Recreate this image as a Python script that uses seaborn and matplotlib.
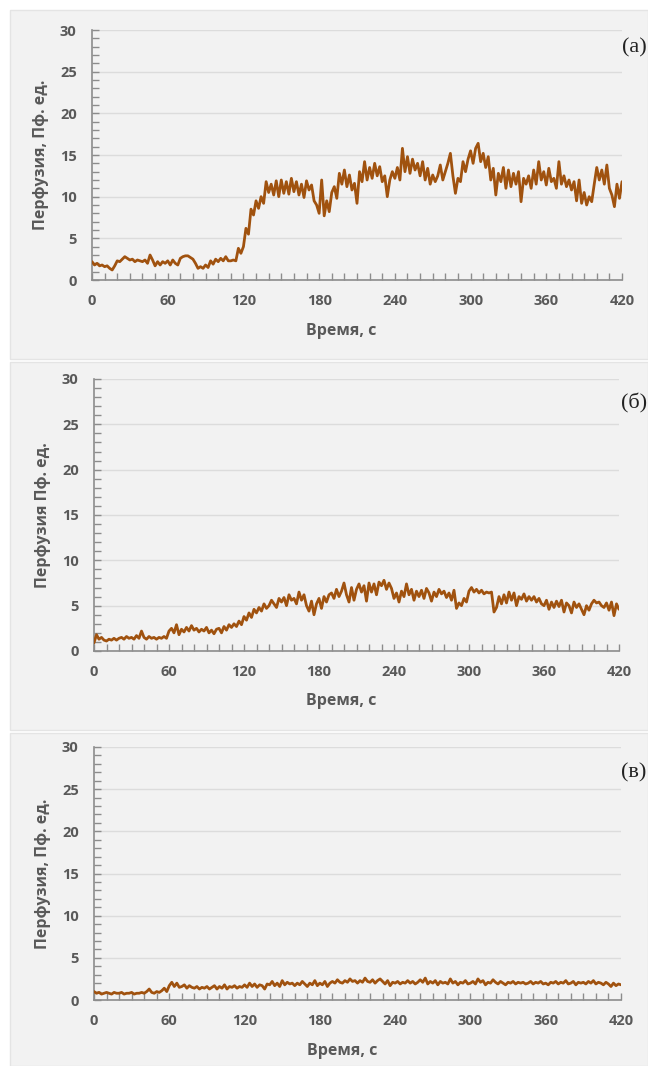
import numpy as np
import matplotlib
matplotlib.use("Agg")
import matplotlib.pyplot as plt
from matplotlib.patches import Rectangle
from matplotlib.ticker import MultipleLocator
import seaborn as sns

# ---------------- data (perfusion, PU; sampled every 2 s from 0 to 420 s) ----------------
perf_a = [
    2.2, 1.8, 2.0, 1.7, 1.8, 1.6, 1.7, 1.4, 1.2, 1.7,
    2.3, 2.2, 2.5, 2.8, 2.6, 2.4, 2.5, 2.2, 2.4, 2.3,
    2.2, 2.4, 2.0, 3.0, 2.4, 1.7, 2.2, 1.8, 2.2, 2.0,
    2.3, 1.8, 2.4, 2.0, 1.8, 2.6, 2.8, 2.9, 2.9, 2.7,
    2.5, 2.0, 1.4, 1.6, 1.4, 1.8, 1.5, 2.3, 1.9, 2.5,
    2.2, 2.6, 2.3, 2.8, 2.3, 2.3, 2.4, 2.3, 3.8, 3.2,
    4.0, 6.2, 5.5, 8.5, 7.8, 9.5, 8.6, 10.0, 9.2, 11.8,
    10.5, 11.5, 10.2, 11.9, 10.0, 12.0, 10.4, 11.8, 10.3, 12.2,
    10.6, 11.8, 10.2, 11.5, 9.9, 11.9, 10.8, 11.4, 9.5, 9.0,
    8.0, 12.0, 7.7, 9.5, 8.2, 10.5, 11.2, 9.8, 12.8, 11.5,
    13.2, 11.2, 12.6, 10.8, 11.6, 9.2, 13.0, 11.8, 14.2, 12.0,
    13.5, 12.2, 14.0, 12.5, 13.6, 11.8, 12.5, 10.0, 12.0, 13.0,
    12.2, 13.5, 12.0, 15.8, 13.0, 14.8, 12.8, 14.5, 13.2, 14.0,
    12.5, 14.2, 12.0, 13.4, 11.5, 12.6, 11.8, 12.5, 13.8, 12.0,
    13.0, 14.0, 15.2, 12.5, 10.4, 12.2, 11.8, 14.2, 13.0, 14.5,
    15.5, 14.0, 15.8, 16.4, 14.2, 15.2, 13.5, 14.8, 12.0, 13.4,
    10.2, 12.8, 11.8, 13.5, 11.0, 13.2, 11.2, 12.8, 11.5, 13.0,
    9.4, 12.2, 11.5, 12.5, 11.0, 13.2, 11.5, 14.2, 12.0, 13.0,
    11.4, 13.4, 11.8, 12.2, 11.0, 14.2, 11.5, 12.5, 11.2, 12.0,
    10.8, 11.8, 9.5, 12.0, 9.2, 10.5, 9.0, 10.0, 9.4, 11.5,
    13.5, 12.0, 13.2, 11.5, 13.8, 11.0, 10.2, 8.8, 11.5, 9.8,
    11.8,
]

perf_b = [
    0.9, 1.8, 1.3, 1.5, 1.2, 1.1, 1.3, 1.2, 1.4, 1.2,
    1.4, 1.5, 1.3, 1.6, 1.4, 1.5, 1.3, 1.7, 1.4, 2.2,
    1.5, 1.3, 1.6, 1.4, 1.5, 1.3, 1.5, 1.4, 1.6, 1.4,
    2.2, 2.5, 2.0, 2.9, 1.8, 2.4, 2.1, 2.6, 2.2, 2.8,
    2.3, 2.5, 2.1, 2.4, 2.2, 2.6, 2.0, 2.3, 1.9, 2.4,
    2.5, 2.0, 2.7, 2.3, 2.9, 2.6, 3.0, 2.7, 3.3, 2.9,
    3.8, 3.4, 4.2, 3.7, 4.6, 4.2, 4.8, 4.4, 5.2, 4.7,
    5.0, 5.6, 5.2, 4.8, 5.8, 5.4, 5.9, 5.0, 6.2, 5.6,
    5.8, 5.2, 6.5, 5.6, 6.2, 5.0, 4.4, 5.5, 4.0, 5.2,
    5.8, 4.7, 6.0, 5.4, 6.2, 6.4, 5.8, 6.8, 6.0, 6.6,
    7.5, 6.2, 5.4, 7.0, 5.6, 6.8, 7.4, 6.5, 7.2, 5.5,
    7.5, 6.5, 7.4, 6.2, 7.6, 7.2, 7.8, 6.8, 7.5, 6.9,
    5.8, 6.4, 5.4, 6.6, 6.0, 7.4, 6.2, 6.8, 5.6, 6.6,
    6.0, 6.7, 5.8, 6.9, 6.4, 5.5, 6.5, 6.0, 6.8, 6.3,
    6.6, 5.9, 6.4, 5.6, 6.7, 4.7, 5.3, 5.0, 5.8, 5.4,
    6.6, 7.0, 6.5, 6.8, 6.4, 6.7, 6.3, 6.5, 6.4, 6.5,
    4.3, 4.8, 6.0, 5.2, 6.2, 5.3, 6.5, 5.6, 6.4, 5.0,
    6.0, 5.7, 6.3, 5.5, 6.0, 5.6, 6.0, 5.4, 5.8, 5.2,
    5.0, 5.6, 4.6, 5.4, 4.8, 5.5, 4.9, 5.6, 4.3, 5.3,
    5.0, 4.2, 5.4, 4.8, 5.2, 4.6, 4.0, 5.0, 4.5, 5.2,
    5.6, 5.3, 5.4, 5.0, 4.8, 5.3, 4.5, 5.4, 3.9, 5.2,
    4.6,
]

perf_c = [
    1.0, 0.8, 0.9, 0.7, 0.8, 0.9, 0.8, 0.7, 0.9, 0.8,
    0.8, 0.9, 0.7, 0.8, 0.8, 0.9, 0.7, 0.8, 0.8, 0.9,
    0.8, 1.0, 1.3, 0.9, 0.8, 1.0, 0.9, 1.1, 1.4, 1.0,
    1.7, 2.1, 1.6, 2.0, 1.5, 1.6, 1.8, 1.4, 1.7, 1.5,
    1.4, 1.6, 1.3, 1.5, 1.4, 1.6, 1.3, 1.5, 1.7, 1.3,
    1.6, 1.4, 1.8, 1.3, 1.6, 1.5, 1.7, 1.4, 1.6, 1.5,
    1.8, 1.5, 2.0, 1.6, 1.9, 1.5, 1.8, 1.7, 1.3, 1.9,
    1.8, 2.2, 1.7, 2.0, 1.6, 2.3, 1.8, 2.1, 1.9, 2.0,
    1.7, 2.0, 1.8, 2.2, 1.9, 1.6, 2.0, 1.8, 2.3, 1.7,
    2.0, 1.8, 2.2, 1.6, 2.0, 2.2, 2.0, 2.4, 2.1, 2.0,
    2.3, 2.1, 2.5, 2.2, 2.3, 2.0, 2.3, 2.1, 2.6, 2.2,
    2.1, 2.4, 2.0, 2.3, 2.5, 2.2, 1.9, 2.3, 1.7, 2.1,
    2.0, 2.2, 1.9, 2.1, 2.0, 2.3, 2.0, 2.2, 1.9, 2.1,
    2.4, 2.1, 2.6, 1.9, 2.2, 2.0, 2.3, 1.8, 2.2, 2.0,
    2.1, 1.9, 2.5, 2.0, 2.2, 1.8, 2.1, 2.0, 2.3, 1.9,
    2.0, 2.2, 1.9, 2.5, 2.1, 2.3, 1.8, 2.1, 2.0, 2.4,
    2.1, 1.9, 2.2, 2.0, 1.8, 2.1, 2.0, 2.2, 1.9, 2.1,
    2.0, 2.1, 1.9, 2.0, 2.2, 1.9, 2.1, 2.0, 2.2, 1.9,
    2.0, 1.8, 2.1, 2.0, 2.2, 1.9, 2.1, 2.0, 2.3, 1.9,
    2.0, 2.2, 1.8, 2.1, 2.0, 2.1, 1.9, 2.2, 2.0, 2.3,
    1.9, 2.1, 2.0, 1.8, 2.1, 1.9, 1.6, 2.0, 1.7, 1.9,
    1.8,
]

x_ticks = [0, 60, 120, 180, 240, 300, 360, 420]
y_ticks = [0, 5, 10, 15, 20, 25, 30]
x_label = "Время, с"
y_labels = ["Перфузия, Пф. ед.", "Перфузия Пф. ед.", "Перфузия, Пф. ед."]
panel_tags = ["(а)", "(б)", "(в)"]

# ---------------- style ----------------
sns.set_style("white")
plt.rcParams["font.family"] = ["Open Sans", "DejaVu Sans"]

W, H = 648, 1066
fig = plt.figure(figsize=(W / 100, H / 100), dpi=100)
fig.patch.set_facecolor("white")

LINE = "#A0520F"
TXT = "#595959"
AXC = "#8C8C8C"
GRID = "#DCDCDC"
BG = "#F2F2F2"

# panel background boxes (pixel coords: x0, y0_top, x1, y1_bottom)
panels = [(10, 10, 648, 359), (10, 362, 648, 730), (10, 733, 648, 1066)]
# axes boxes (left, top, right, bottom) in pixels
boxes = [(92, 30, 622, 280), (94, 379, 619, 651), (94, 747, 621, 1000)]
series = [perf_a, perf_b, perf_c]
tag_pos = [(634, 48), (634, 403), (634, 773)]

for (x0, y0, x1, y1) in panels:
    fig.patches.append(Rectangle((x0 / W, 1 - y1 / H), (x1 - x0) / W, (y1 - y0) / H,
                                 transform=fig.transFigure, facecolor=BG,
                                 edgecolor="#E4E4E4", linewidth=1.0, zorder=-5))

for i, (box, vals) in enumerate(zip(boxes, series)):
    l, t, r, b = box
    ax = fig.add_axes([l / W, 1 - b / H, (r - l) / W, (b - t) / H])
    ax.set_facecolor("none")
    ax.patch.set_alpha(0)
    tsec = np.linspace(0, 420, len(vals))
    sns.lineplot(x=tsec, y=vals, ax=ax, color=LINE, linewidth=2.0, zorder=3)
    ax.set_xlim(0, 420)
    ax.set_ylim(0, 30)
    ax.set_xticks(x_ticks)
    ax.set_yticks(y_ticks)
    ax.xaxis.set_minor_locator(MultipleLocator(10))
    ax.yaxis.set_minor_locator(MultipleLocator(1))
    ax.tick_params(which="both", bottom=True, left=True, top=False, right=False,
                   direction="in", color=AXC, width=1.0, length=5)
    ax.tick_params(axis="x", which="major", pad=10)
    ax.tick_params(axis="y", which="major", pad=11)
    for lab in ax.get_xticklabels() + ax.get_yticklabels():
        lab.set_fontweight("bold")
        lab.set_color(TXT)
        lab.set_fontsize(10.5)
    ax.yaxis.grid(True, color=GRID, linewidth=1.0, zorder=0)
    ax.xaxis.grid(False)
    ax.set_axisbelow(True)
    for s in ["top", "right"]:
        ax.spines[s].set_visible(False)
    for s in ["left", "bottom"]:
        ax.spines[s].set_color(AXC)
        ax.spines[s].set_linewidth(1.2)
    ax.set_xlabel(x_label, fontsize=11.5, fontweight="bold", color=TXT, labelpad=7)
    ax.xaxis.set_label_coords(0.47, -0.17 if i == 0 else -0.155 if i == 1 else -0.17)
    ax.set_ylabel(y_labels[i], fontsize=11.5, fontweight="bold", color=TXT, labelpad=8)
    tx, ty = tag_pos[i]
    fig.text(tx / W, 1 - ty / H, panel_tags[i], fontsize=16, color="#222222",
             family=["Liberation Serif", "DejaVu Serif"], ha="center", va="center")

fig.savefig("out.png", dpi=100, facecolor="white")
